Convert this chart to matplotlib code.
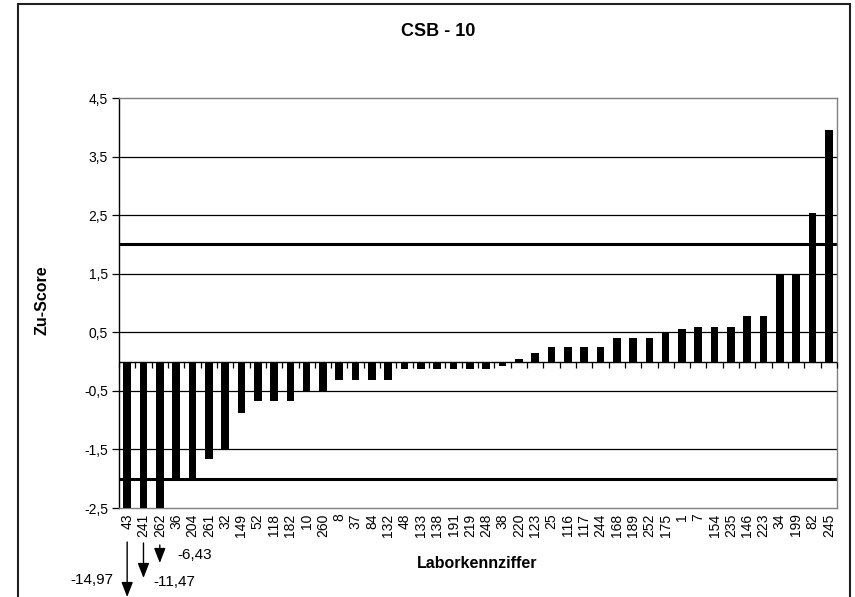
import matplotlib
matplotlib.use("Agg")
import matplotlib.pyplot as plt
import numpy as np
from matplotlib.patches import Rectangle

plt.rcParams['font.family'] = ['Liberation Sans', 'DejaVu Sans']

labels = ["43", "241", "262", "36", "204", "261", "32", "149", "52", "118", "182",
          "10", "260", "8", "37", "84", "132", "48", "133", "138", "191", "219",
          "248", "38", "220", "123", "25", "116", "117", "244", "168", "189", "252",
          "175", "1", "7", "154", "235", "146", "223", "34", "199", "82", "245"]
values = [-14.97, -11.47, -6.43, -2.0, -2.0, -1.67, -1.5, -0.87, -0.68, -0.68, -0.68,
          -0.5, -0.5, -0.31, -0.31, -0.31, -0.31, -0.13, -0.13, -0.13, -0.13, -0.13,
          -0.12, -0.08, 0.05, 0.15, 0.25, 0.25, 0.25, 0.25, 0.41, 0.41, 0.41,
          0.5, 0.55, 0.59, 0.59, 0.59, 0.78, 0.78, 1.48, 1.48, 2.53, 3.95]
limits = [2.0, -2.0]
yticks = [-2.5, -1.5, -0.5, 0.5, 1.5, 2.5, 3.5, 4.5]
ytick_labels = ["-2,5", "-1,5", "-0,5", "0,5", "1,5", "2,5", "3,5", "4,5"]
outlier_labels = ["-14,97", "-11,47", "-6,43"]

fig = plt.figure(figsize=(8.55, 5.97), dpi=100)
ax = fig.add_axes([119/855, 1-508/597, (837-119)/855, (508-98)/597])

x = np.arange(len(labels))
ymin, ymax = -2.5, 4.5
ax.bar(x, values, width=0.47, color='black', zorder=3)
ax.set_xlim(-0.5, len(labels) - 0.5)
ax.set_ylim(ymin, ymax)

for g in [-1.5, -0.5, 0.5, 1.5, 2.5, 3.5]:
    ax.axhline(g, color='black', lw=0.9, zorder=1)
for lim in limits:
    ax.axhline(lim, color='black', lw=2.2, zorder=2)
ax.axhline(0, color='black', lw=1.0, zorder=4)
# category separator ticks on zero line (pointing down)
bounds = np.arange(len(labels) + 1) - 0.5
ax.plot(bounds, np.zeros_like(bounds), linestyle='none', marker=3, markersize=4,
        color='black', markeredgewidth=0.9, zorder=4, clip_on=False)

ax.set_yticks(yticks)
ax.set_yticklabels(ytick_labels, fontsize=10)
ax.set_xticks(x)
ax.set_xticklabels(labels, rotation=90, fontsize=10)
ax.tick_params(axis='x', length=0, pad=4)
ax.tick_params(axis='y', length=5, width=0.9, direction='out', pad=3)

for s in ['top', 'right', 'bottom']:
    ax.spines[s].set_color('#808080')
    ax.spines[s].set_linewidth(1.0)
ax.spines['left'].set_color('black')
ax.spines['left'].set_linewidth(1.0)

fig.text(438/855, 1-31/597, "CSB - 10", ha='center', va='center',
         fontsize=13, fontweight='bold')
fig.text(42/855, 1-300/597, "Zu-Score", ha='center', va='center', rotation=90,
         fontsize=11.5, fontweight='bold')
fig.text(477/855, 1-563/597, "Laborkennziffer", ha='center', va='center',
         fontsize=11.5, fontweight='bold')

# outlier arrows (below the axis)
arrow_specs = [(0, 542, 597, 113, 580, 'right'),
               (1, 543, 578, 153, 582, 'left'),
               (2, 545, 563, 177, 555, 'left')]
for (i, y0, y1, tx, ty, ha), lab in zip(arrow_specs, outlier_labels):
    ax.annotate("", xy=(x[i], 1 - y1/597), xycoords=('data', 'figure fraction'),
                xytext=(x[i], 1 - y0/597), textcoords=('data', 'figure fraction'),
                arrowprops=dict(arrowstyle='-|>,head_length=0.9,head_width=0.35',
                                color='black', lw=1.0, shrinkA=0, shrinkB=0),
                annotation_clip=False)
    fig.text(tx/855, 1 - ty/597, lab, ha=ha, va='center', fontsize=11)

fig.add_artist(Rectangle((18/855, -0.05), (850-18)/855, 1.05 - 4/597,
                         transform=fig.transFigure, fill=False,
                         edgecolor='#202020', lw=1.5, clip_on=False))

fig.savefig("out.png", dpi=100)
